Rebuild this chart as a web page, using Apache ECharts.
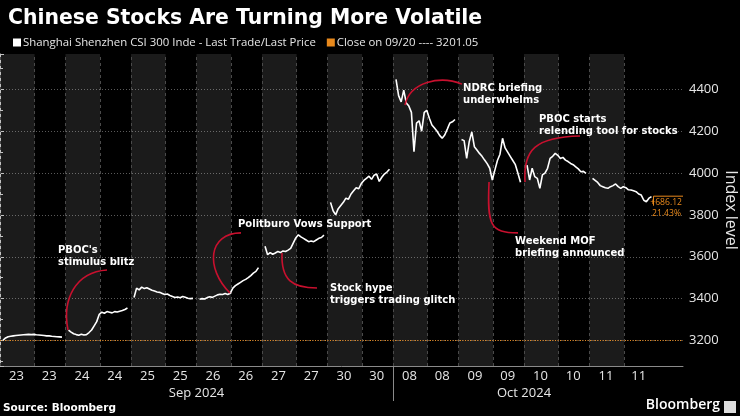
<!DOCTYPE html>
<html><head><meta charset="utf-8">
<script src="https://cdn.jsdelivr.net/npm/echarts@6/dist/echarts.min.js"></script>
<style>html,body{margin:0;padding:0;background:#000;}#c{width:740px;height:416px;}</style>
</head><body><div id="c"></div>
<script>
// ---- data ----
const dayLabels = ['23','24','25','26','27','30','08','09','10','11'];
const monthLabels = ['Sep 2024','Oct 2024'];
const monthStartDay = [0, 6];
const prevClose = 3201.05;
const yAxisTitle = 'Index level';
const seriesName = 'Shanghai Shenzhen CSI 300 Inde - Last Trade/Last Price';
const closeName = 'Close on 09/20 ---- 3201.05';

const sep23 = [3201,3212,3218,3220,3222,3224,3225,3226,3227,3228,3229,3228,3229,3227,3226,3225,3224,3222,3222,3220,3219,3218,3217,3216];
const sep24 = [3250,3240,3232,3228,3225,3230,3226,3228,3238,3250,3270,3290,3325,3335,3330,3338,3335,3332,3338,3336,3340,3343,3348,3355];
const sep25 = [3405,3450,3442,3455,3448,3452,3446,3440,3436,3432,3430,3425,3420,3422,3415,3410,3405,3408,3404,3410,3406,3402,3400,3401];
const sep26 = [3397,3400,3398,3405,3409,3406,3412,3418,3421,3420,3424,3420,3426,3450,3462,3470,3478,3486,3492,3500,3510,3522,3530,3548];
const sep27 = [3650,3610,3620,3612,3618,3625,3620,3628,3625,3632,3640,3665,3690,3705,3695,3688,3680,3672,3675,3672,3680,3688,3692,3703];
const sep30 = [3860,3820,3800,3830,3845,3860,3880,3875,3900,3915,3930,3925,3950,3965,3975,3985,3970,3990,3995,3960,3980,3995,4005,4018];
const oct08 = [4448,4370,4340,4396,4335,4320,4290,4102,4239,4250,4200,4290,4300,4262,4230,4215,4200,4180,4166,4182,4210,4239,4245,4256];
const oct09 = [4160,4155,4070,4150,4197,4126,4110,4094,4080,4062,4045,4023,3967,4014,4060,4090,4166,4120,4100,4080,4060,4040,3999,3956];
const oct10 = [4038,3967,4023,3983,3975,3927,3991,4000,4023,4070,4080,4094,4085,4070,4075,4062,4055,4046,4040,4030,4020,4006,4008,3998];
const oct11 = [3975,3965,3955,3940,3935,3930,3927,3935,3940,3948,3935,3927,3935,3930,3920,3919,3915,3911,3900,3895,3870,3863,3880,3887.17];
const sessions = [sep23,sep24,sep25,sep26,sep27,sep30,oct08,oct09,oct10,oct11];

// annotations in data coordinates (x in trading-day units, y index level)
const annotations = [
  {text: "PBOC's\nstimulus blitz", at: [0.885, 3604], curve: [[1.634,3537],[1.145,3527],[0.947,3394],[1.038,3250]]},
  {text: 'Politburo Vows Support', at: [3.634, 3757], curve: [[3.679,3714],[3.176,3714],[3.130,3546],[3.511,3427]]},
  {text: 'Stock hype\ntriggers trading glitch', at: [5.038, 3420], curve: [[4.305,3618],[4.290,3489],[4.458,3451],[4.840,3451]]},
  {text: 'NDRC briefing\nunderwhelms', at: [7.069, 4378], curve: [[6.183,4325],[6.260,4435],[6.718,4468],[7.053,4425]]},
  {text: 'PBOC starts\nrelending tool for stocks', at: [8.229, 4227], curve: [[8.015,3957],[7.985,4110],[8.168,4172],[8.855,4177]]},
  {text: 'Weekend MOF\nbriefing announced', at: [7.863, 3644], curve: [[7.466,3957],[7.435,3752],[7.481,3714],[7.908,3714]]}
];

// ---- layout constants ----
const DAY_START = 0.046, DAY_SPAN = 0.9, AM_FRAC = 0.528, X_MAX = 10.427;
const Y_MIN = 3078, Y_MAX = 4569;
const WHITE = '#ffffff', TXT = '#e6e6e6', ORANGE = '#e8891c', RED = '#c8102e';

const linePts = [];
sessions.forEach((arr, d) => {
  const n = arr.length;
  arr.forEach((v, i) => linePts.push([d + DAY_START + i * DAY_SPAN / (n - 1), v]));
  linePts.push([d + 0.99, '-']);
});
const bandAreas = [], bandLines = [];
for (let d = 0; d < sessions.length; d++) {
  bandAreas.push([{xAxis: d}, {xAxis: d + AM_FRAC}]);
  bandLines.push({xAxis: d}, {xAxis: d + AM_FRAC});
}

const chart = echarts.init(document.getElementById('c'));
chart.setOption({
  backgroundColor: '#000',
  animation: false,
  title: {text: 'Chinese Stocks Are Turning More Volatile', left: 3, top: 4,
    textStyle: {color: WHITE, fontSize: 20.4, fontWeight: 'bold', fontFamily: 'DejaVu Sans'}},
  legend: {left: 13, top: 37, padding: 0, itemWidth: 8, itemHeight: 8, itemGap: 11,
    data: [{name: seriesName, icon: 'rect'}, {name: closeName, icon: 'rect'}],
    textStyle: {color: TXT, fontSize: 11.4, fontFamily: 'Open Sans', padding: [0,0,0,-3]}},
  grid: {left: 0, right: 57, top: 54, bottom: 50, containLabel: false, outerBoundsMode: 'none'},
  xAxis: {type: 'value', min: 0, max: X_MAX, interval: 0.25,
    axisLine: {show: true, lineStyle: {color: '#8a8a8a', width: 1}},
    axisTick: {show: false}, splitLine: {show: false},
    axisLabel: {color: TXT, fontSize: 13, fontFamily: 'Open Sans', margin: 4, showMaxLabel: false,
      formatter: v => { const q = Math.round(v * 4); return (q % 2 === 1 && q < 40) ? dayLabels[Math.floor(q / 4)] : ''; }}},
  yAxis: {type: 'value', position: 'right', min: Y_MIN, max: Y_MAX, minInterval: 200, maxInterval: 200,
    axisLine: {show: true, lineStyle: {color: '#bbbbbb'}},
    axisTick: {show: true, length: 4, lineStyle: {color: '#bbbbbb'}},
    minorTick: {show: true, splitNumber: 2, length: 3, lineStyle: {color: '#bbbbbb'}},
    splitLine: {show: true, showMinLine: false, showMaxLine: false, lineStyle: {color: '#5a5a5a', type: [1, 2]}},
    axisLabel: {color: TXT, fontSize: 13, fontFamily: 'Open Sans', margin: 6, showMinLabel: false, showMaxLabel: false,
      formatter: v => String(Math.round(v))}},
  series: [
    {type: 'line', name: 'bands', data: [], silent: true, z: 1,
      markArea: {silent: true, itemStyle: {color: 'rgba(255,255,255,0.105)'}, data: bandAreas},
      markLine: {silent: true, symbol: 'none', label: {show: false},
        lineStyle: {color: '#4a4a4a', type: [3, 3], width: 1}, data: bandLines}},
    {type: 'line', name: closeName, data: [], color: ORANGE, z: 3,
      markLine: {silent: true, symbol: 'none', label: {show: false},
        lineStyle: {color: ORANGE, type: [1, 1.5], width: 1}, data: [{yAxis: prevClose}]}},
    {type: 'line', name: seriesName, data: linePts, color: WHITE, z: 5, showSymbol: false,
      connectNulls: false, lineStyle: {color: WHITE, width: 1.6}}
  ]
});

// ---- overlay graphics positioned from data coordinates ----
const px = (x, y) => chart.convertToPixel({gridIndex: 0}, [x, y]);
const g = [];
const axisY = px(0, Y_MIN)[1];
const axisX = px(X_MAX, Y_MIN)[0];
const midY = (px(0, Y_MIN)[1] + px(0, Y_MAX)[1]) / 2;
g.push({type: 'text', x: axisX + 48, y: midY, rotation: -Math.PI / 2,
  style: {text: yAxisTitle, fill: TXT, font: '16px "Open Sans"', align: 'center', verticalAlign: 'middle'}});
monthLabels.forEach((m, i) => {
  const a = monthStartDay[i], b = i + 1 < monthStartDay.length ? monthStartDay[i + 1] : sessions.length;
  const cx = (px(a, 3200)[0] + px(b, 3200)[0]) / 2;
  g.push({type: 'text', x: cx, y: axisY + 27, style: {text: m, fill: TXT, font: '13px "Open Sans"', align: 'center', verticalAlign: 'middle'}});
  if (i > 0) {
    const dx = Math.round(px(a, 3200)[0]) + 0.5;
    g.push({type: 'line', shape: {x1: dx, y1: axisY, x2: dx, y2: axisY + 35}, style: {stroke: '#8a8a8a', lineWidth: 1}});
  }
});
annotations.forEach(a => {
  const p = a.curve.map(c => px(c[0], c[1]));
  g.push({type: 'bezierCurve', shape: {x1: p[0][0], y1: p[0][1], cpx1: p[1][0], cpy1: p[1][1], cpx2: p[2][0], cpy2: p[2][1], x2: p[3][0], y2: p[3][1]},
    style: {stroke: RED, lineWidth: 1.6, fill: null}, z: 10});
  const t = px(a.at[0], a.at[1]);
  g.push({type: 'text', x: t[0], y: t[1], z: 11, style: {text: a.text, fill: WHITE, font: 'bold 10px "DejaVu Sans"', lineHeight: 12, align: 'left', verticalAlign: 'middle'}});
});
const lastArr = sessions[sessions.length - 1];
const lastVal = lastArr[lastArr.length - 1];
const lp = px(sessions.length - 1 + DAY_START + DAY_SPAN, lastVal);
const diff = lastVal - prevClose, pct = diff / prevClose * 100;
g.push({type: 'polyline', shape: {points: [[lp[0] + 2, lp[1] + 9], [lp[0] + 2, lp[1] - 0.5], [axisX, lp[1] - 0.5]]}, style: {stroke: ORANGE, lineWidth: 1, fill: null}, z: 12});
g.push({type: 'text', x: axisX - 1, y: lp[1] + 6, z: 12, style: {text: (diff >= 0 ? '+' : '') + diff.toFixed(2), fill: ORANGE, font: '8.6px "Open Sans"', align: 'right', verticalAlign: 'middle'}});
g.push({type: 'text', x: axisX - 2, y: lp[1] + 17, z: 12, style: {text: pct.toFixed(2) + '%', fill: ORANGE, font: '8.6px "Open Sans"', align: 'right', verticalAlign: 'middle'}});
g.push({type: 'text', left: 3, top: 403, style: {text: 'Source: Bloomberg', fill: WHITE, font: 'bold 10.5px "DejaVu Sans"'}});
g.push({type: 'text', right: 20, top: 398, style: {text: 'Bloomberg', fill: WHITE, font: '600 14px "Open Sans"'}});
g.push({type: 'rect', right: 4, top: 401, shape: {width: 12, height: 12}, style: {fill: '#dddddd'}});
chart.setOption({graphic: g});
</script>
</body></html>
